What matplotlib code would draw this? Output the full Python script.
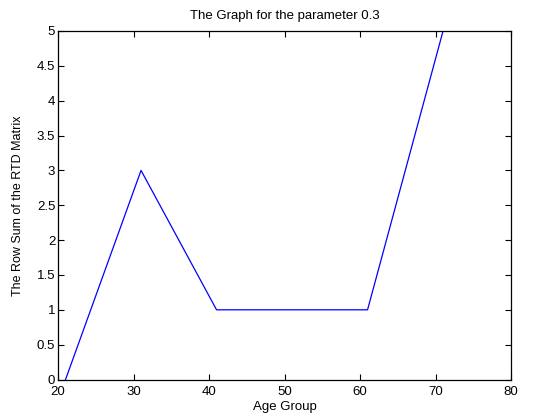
import matplotlib
matplotlib.use("Agg")
from matplotlib import pyplot as plt

age_group = [21, 31, 41, 51, 61, 71]
row_sum = [0, 3, 1, 1, 1, 5]
x_ticks = [20, 30, 40, 50, 60, 70, 80]
y_ticks = [0, 0.5, 1, 1.5, 2, 2.5, 3, 3.5, 4, 4.5, 5]
y_tick_labels = ["0", "0.5", "1", "1.5", "2", "2.5", "3", "3.5", "4", "4.5", "5"]

plt.rcParams['font.family'] = ['Liberation Sans', 'DejaVu Sans']
plt.rcParams['font.size'] = 9.5

fig = plt.figure(figsize=(5.35, 4.19), dpi=100)
ax = fig.add_axes([58 / 535, (419 - 379.5) / 419, (511 - 58) / 535, (379.5 - 31) / 419])

ax.plot(age_group, row_sum, color='blue', linewidth=0.9)

ax.set_xlim(20, 80)
ax.set_ylim(0, 5)
ax.set_xticks(x_ticks)
ax.set_yticks(y_ticks)
ax.set_yticklabels(y_tick_labels)
ax.tick_params(direction='in', top=True, right=True, length=4, width=0.8, labelsize=9.5)
ax.tick_params(axis='x', pad=5)
ax.tick_params(axis='y', pad=2)
for s in ax.spines.values():
    s.set_linewidth(0.9)

ax.set_title("The Graph for the parameter 0.3", fontsize=9.5, pad=9)
ax.set_xlabel("Age Group", fontsize=9.5, labelpad=2)
ax.set_ylabel("The Row Sum of the RTD Matrix", fontsize=9, labelpad=9)

fig.savefig("out.png", dpi=100)
